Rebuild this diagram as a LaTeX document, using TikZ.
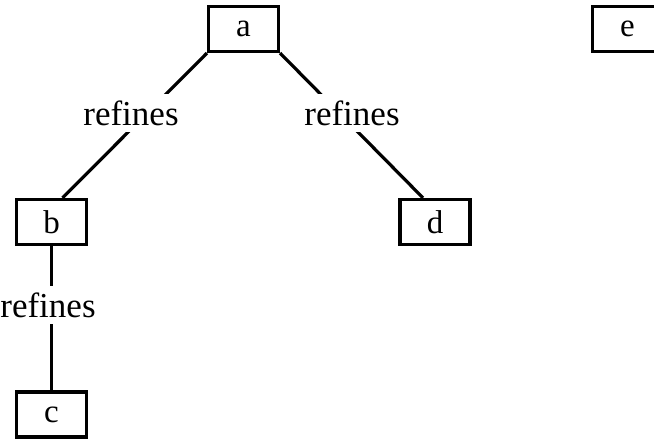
\documentclass[tikz,border=0pt]{standalone}
\usepackage{fontspec}
\setmainfont{Liberation Serif}
\begin{document}
\begin{tikzpicture}[x=1pt,y=-1pt,
  box/.style={draw, line width=3.2pt, rectangle, inner sep=0pt,
              minimum width=70pt, minimum height=45pt, font=\fontsize{33}{33}\selectfont},
  rel/.style={fill=white, inner xsep=2pt, inner ysep=7pt, font=\fontsize{35}{35}\selectfont},
  link/.style={line width=3.2pt}]
\useasboundingbox (0,0) rectangle (654,440);

% concept boxes
\node[box] (a) at (243.5,29) {a};
\node[box] (b) at (51.5,222) {b};
\node[box] (c) at (51.5,414.5) {c};
\node[box] (d) at (435,222) {d};
\node[box] (e) at (627.5,29) {e};

% refinement links
\draw[link] (a.south west) -- ([xshift=11pt]b.north);
\draw[link] (a.south east) -- ([xshift=-12pt]d.north);
\draw[link] (b.south) -- (c.north);

% link labels
\node[rel] (l1) at (131,113) {refines};
\node[rel] (l2) at (352,113) {refines};
\node[rel] (l3) at (48,305) {refines};
\end{tikzpicture}
\end{document}
